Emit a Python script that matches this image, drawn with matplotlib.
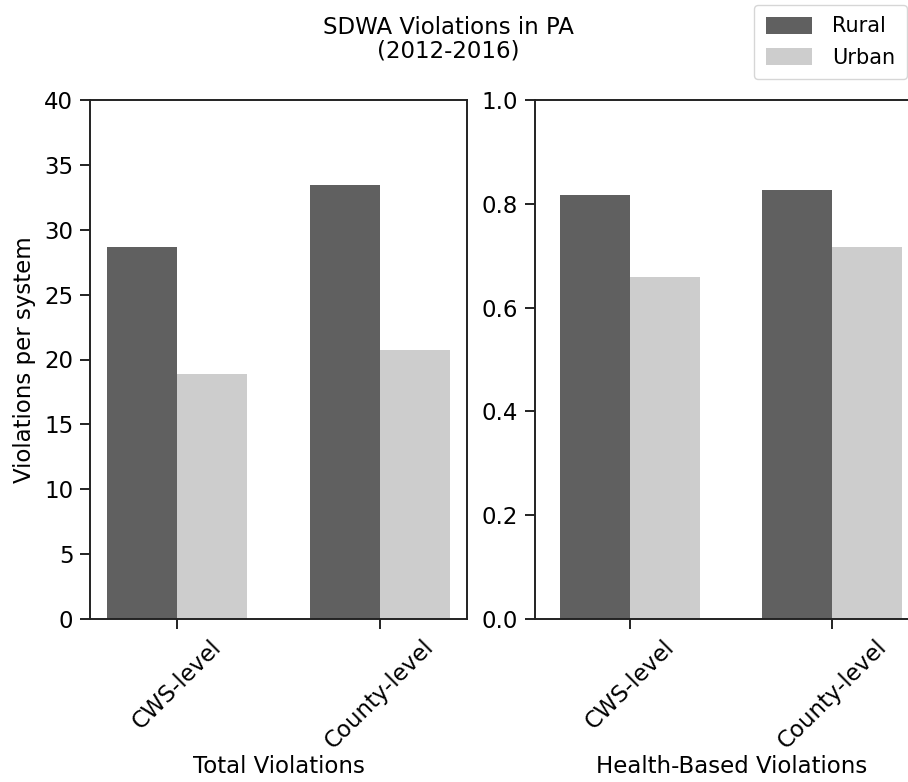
import numpy as np
import matplotlib
matplotlib.use("Agg")
import matplotlib.pyplot as plt

levels = ["CWS-level", "County-level"]
groups = ["Rural", "Urban"]
total_rural = [28.7, 33.45]
total_urban = [18.85, 20.7]
health_rural = [0.817, 0.826]
health_urban = [0.658, 0.717]

colors = {"Rural": "#606060", "Urban": "#cdcdcd"}
W, H = 908, 782
FS = 16.5


def px_axes(fig, left, right, top, bottom):
    return fig.add_axes([left / W, 1 - bottom / H, (right - left) / W, (bottom - top) / H])


def draw(ax, rural, urban, xlabel, ylim, yticks, ytl, xlim):
    x = np.arange(len(levels))
    bw = 0.345
    ax.bar(x - bw / 2, rural, bw, color=colors["Rural"], label="Rural")
    ax.bar(x + bw / 2, urban, bw, color=colors["Urban"], label="Urban")
    ax.set_xlim(*xlim)
    ax.set_ylim(*ylim)
    ax.set_yticks(yticks)
    ax.set_yticklabels(ytl, fontsize=FS)
    ax.set_xticks(x)
    ax.set_xticklabels(levels, rotation=45, fontsize=FS)
    ax.set_xlabel(xlabel, fontsize=FS, labelpad=1)
    for s in ax.spines.values():
        s.set_linewidth(1.4)
        s.set_color("#222222")
    ax.tick_params(length=7, width=1.4, color="#222222", pad=5)


fig = plt.figure(figsize=(W / 100, H / 100), dpi=100)
ax1 = px_axes(fig, 90, 467, 100, 619)
ax2 = px_axes(fig, 535, 929, 100, 619)

draw(ax1, total_rural, total_urban, "Total Violations", (0, 40),
     np.arange(0, 41, 5), [str(v) for v in range(0, 41, 5)], (-0.43, 1.43))
draw(ax2, health_rural, health_urban, "Health-Based Violations", (0, 1.0),
     np.arange(0, 1.01, 0.2), [f"{v:.1f}" for v in np.arange(0, 1.01, 0.2)], (-0.47, 1.48))
ax1.set_ylabel("Violations per system", fontsize=FS, labelpad=6)

fig.suptitle("SDWA Violations in PA\n(2012-2016)", x=0.494, y=0.98, fontsize=16.5,
             linespacing=1.05)
fig.legend(*ax1.get_legend_handles_labels(), loc="upper right",
           bbox_to_anchor=(907 / W, 1 - 5 / H), fontsize=15, handlelength=2.2,
           handleheight=0.9, labelspacing=0.55, borderpad=0.55, borderaxespad=0,
           handletextpad=1.0)

fig.savefig("out.png", dpi=100)
